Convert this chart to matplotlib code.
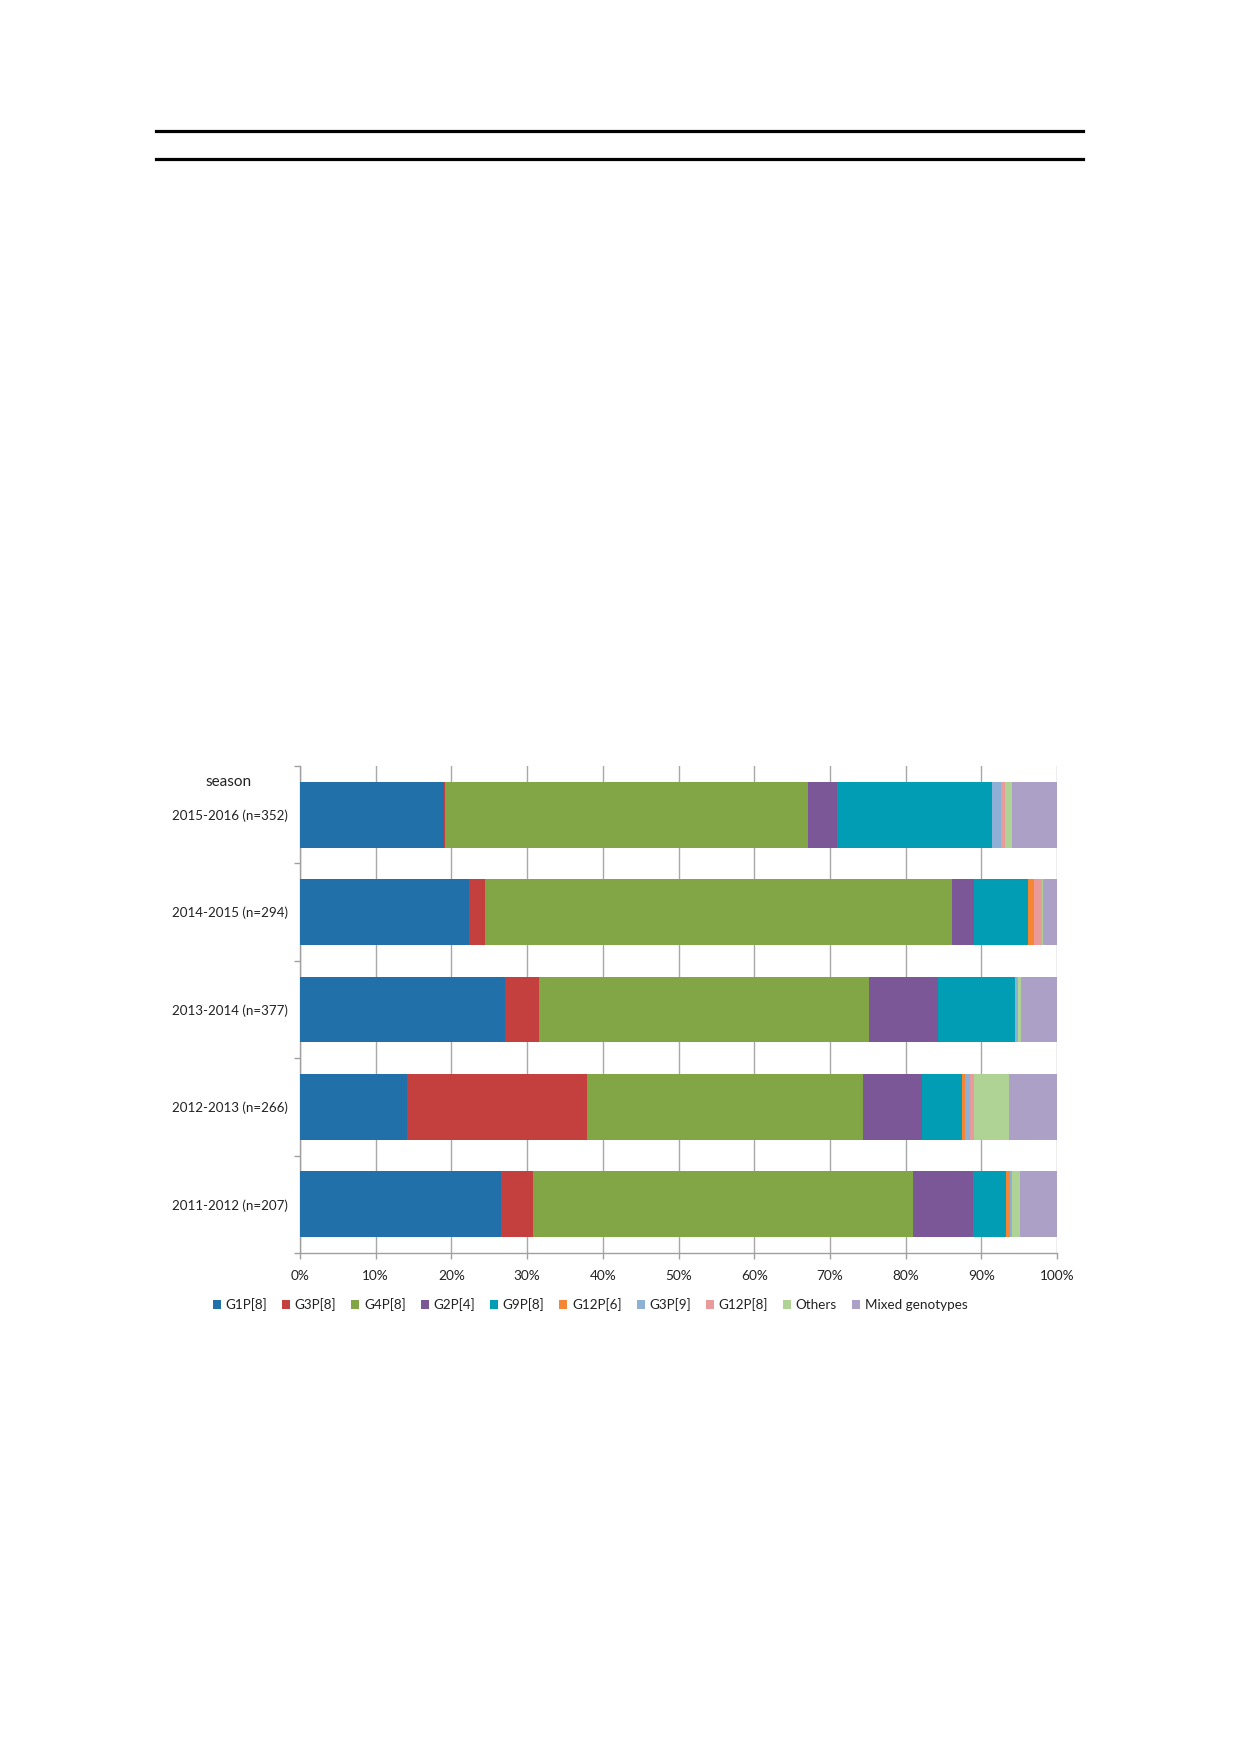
import matplotlib
matplotlib.use("Agg")
import matplotlib.pyplot as plt
from matplotlib.lines import Line2D
from matplotlib.ticker import FixedLocator, FuncFormatter

plt.rcParams['font.family'] = ['Lato', 'DejaVu Sans']

seasons = ["2011-2012 (n=207)", "2012-2013 (n=266)", "2013-2014 (n=377)",
           "2014-2015 (n=294)", "2015-2016 (n=352)"]
genotypes = ["G1P[8]", "G3P[8]", "G4P[8]", "G2P[4]", "G9P[8]", "G12P[6]",
             "G3P[9]", "G12P[8]", "Others", "Mixed genotypes"]
# percentages per season (same order as seasons)
g1p8 = [26.5, 14.2, 27.1, 22.3, 19.0]
g3p8 = [4.3, 23.7, 4.5, 2.1, 0.2]
g4p8 = [50.2, 36.5, 43.6, 61.7, 47.9]
g2p4 = [7.9, 7.8, 9.1, 3.0, 3.9]
g9p8 = [4.4, 5.3, 10.1, 7.1, 20.4]
g12p6 = [0.5, 0.4, 0.0, 0.8, 0.0]
g3p9 = [0.2, 0.6, 0.5, 0.0, 1.2]
g12p8 = [0.0, 0.6, 0.0, 1.0, 0.5]
others = [1.1, 4.6, 0.3, 0.2, 0.9]
mixed = [4.9, 6.3, 4.8, 1.8, 6.0]
series = [g1p8, g3p8, g4p8, g2p4, g9p8, g12p6, g3p9, g12p8, others, mixed]
colors = ["#2270A9", "#C3403E", "#82A646", "#7B5797", "#019DB5", "#F58634",
          "#8EB0D6", "#E89B9A", "#AED394", "#ACA0C7"]

fig = plt.figure(figsize=(12.39, 17.52), dpi=100)
fig.patch.set_facecolor("white")

# top double rule
for yy in (1 - 131 / 1752, 1 - 159 / 1752):
    fig.add_artist(Line2D([156 / 1239, 1083 / 1239], [yy, yy], color="black",
                          lw=2.3, transform=fig.transFigure))

ax = fig.add_axes([300 / 1239, 1 - 1253 / 1752, 757 / 1239, 487 / 1752])
ypos = list(range(len(seasons)))
left = [0.0] * len(seasons)
for name, vals, c in zip(genotypes, series, colors):
    ax.barh(ypos, vals, left=left, height=0.675, color=c, label=name,
            edgecolor="none", zorder=3)
    left = [l + v for l, v in zip(left, vals)]

ax.set_xlim(0, 100)
ax.set_ylim(-0.5, 4.5)
ax.set_xticks(range(0, 101, 10))
ax.xaxis.set_major_formatter(FuncFormatter(lambda v, p: f"{int(v)}%"))
ax.set_yticks(ypos)
ax.set_yticklabels(seasons)
ax.yaxis.set_minor_locator(FixedLocator([-0.5, 0.5, 1.5, 2.5, 3.5, 4.5]))
ax.tick_params(axis="y", which="major", length=0, pad=9, labelsize=9.6, colors="#222222")
ax.tick_params(axis="y", which="minor", length=4, color="#a0a0a0", width=1)
ax.tick_params(axis="x", which="major", length=4, color="#a0a0a0", width=1,
               pad=8, labelsize=9.8, labelcolor="#222222")
ax.grid(axis="x", color="#a8a8a8", lw=1, zorder=0)
for s in ("top", "right"):
    ax.spines[s].set_visible(False)
for s in ("left", "bottom"):
    ax.spines[s].set_color("#a0a0a0")
    ax.spines[s].set_linewidth(1)

fig.text(229 / 1239, 1 - 782 / 1752, "season", ha="center", va="center",
         fontsize=11, color="#222222")

handles, labels = ax.get_legend_handles_labels()
fig.legend(handles, labels, loc="center", bbox_to_anchor=(590 / 1239, 1 - 1305 / 1752),
           ncol=10, frameon=False, fontsize=9.7, handlelength=0.6, handleheight=0.6,
           handletextpad=0.35, columnspacing=1.1, labelcolor="#222222")

fig.savefig("out.png", dpi=100, facecolor="white")
